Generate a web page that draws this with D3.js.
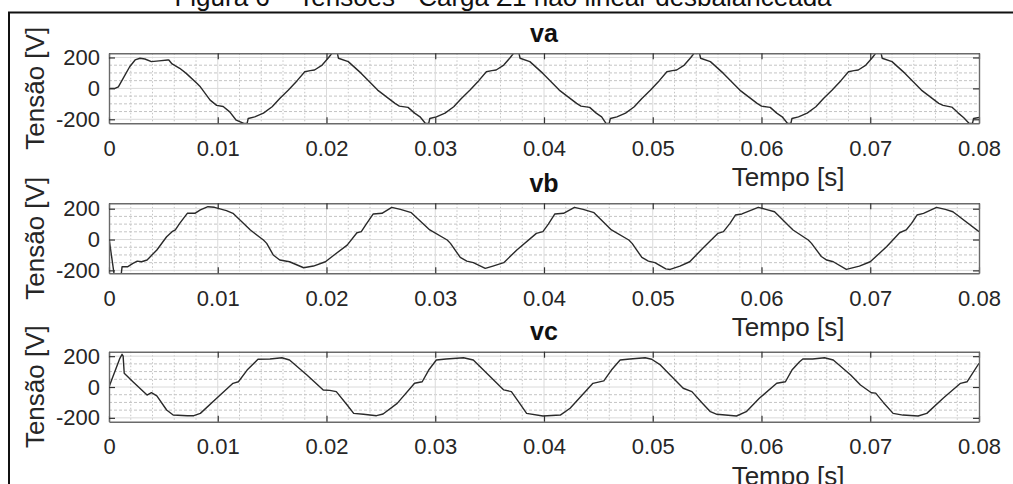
<!DOCTYPE html>
<html>
<head>
<meta charset="utf-8">
<script src="https://cdn.jsdelivr.net/npm/d3@7"></script>
<style>
  html, body { margin: 0; padding: 0; background: #fff; }
  svg { display: block; font-family: "Liberation Sans", Arial, sans-serif; }
</style>
</head>
<body>
<svg id="fig" width="1013" height="484"></svg>
<script>
// Phase voltages [t (s), v (V)] under the unbalanced non-linear load Z1
const va = [
  [0, 0], [0.00055, 0], [0.00086, 10], [0.0013, 65], [0.0019, 140], [0.0024, 184], [0.00285, 195],
  [0.0033, 190], [0.0039, 173], [0.0046, 178], [0.0054, 184], [0.0055, 184], [0.0058, 158],
  [0.0065, 130], [0.0071, 97], [0.0081, 32], [0.0084, 10], [0.0093, -76], [0.0099, -110],
  [0.0105, -117], [0.0111, -152], [0.0117, -206], [0.0124, -227],
  [0.0127, -227], [0.0128, -195], [0.0134, -184], [0.0142, -160], [0.0150, -119], [0.0157, -65],
  [0.0165, -11], [0.0173, 50], [0.0180, 108], [0.0185, 115], [0.0189, 119], [0.0196, 151],
  [0.0202, 200], [0.0205, 227], [0.0210, 227], [0.0211, 195], [0.0220, 173], [0.0232, 97],
  [0.0247, -11], [0.0263, -97], [0.0267, -115], [0.0275, -123], [0.0281, -160], [0.0286, -184],
  [0.0291, -227], [0.0294, -227], [0.0295, -195], [0.0301, -184], [0.0309, -160], [0.0317, -119],
  [0.0324, -65], [0.0332, -11], [0.0340, 50], [0.0347, 108], [0.0352, 115], [0.0356, 119],
  [0.0363, 151], [0.0369, 200], [0.0372, 227], [0.0377, 227], [0.0378, 195], [0.0387, 173],
  [0.0399, 97], [0.0414, -11], [0.0430, -97], [0.0434, -115], [0.0442, -123], [0.0448, -160],
  [0.0453, -184], [0.0457, -227], [0.0460, -227], [0.0461, -195], [0.0467, -184], [0.0475, -160],
  [0.0483, -119], [0.0490, -65], [0.0498, -11], [0.0506, 50], [0.0513, 108], [0.0518, 115],
  [0.0522, 119], [0.0529, 151], [0.0535, 200], [0.0538, 227], [0.0543, 227], [0.0544, 195],
  [0.0553, 173], [0.0565, 97], [0.0580, -11], [0.0596, -97], [0.0600, -115], [0.0608, -123],
  [0.0614, -160], [0.0619, -184], [0.0624, -227], [0.0627, -227], [0.0628, -195], [0.0634, -184],
  [0.0642, -160], [0.0650, -119], [0.0657, -65], [0.0665, -11], [0.0673, 50], [0.0680, 108],
  [0.0685, 115], [0.0689, 119], [0.0696, 151], [0.0702, 200], [0.0705, 227], [0.0710, 227],
  [0.0711, 195], [0.0720, 173], [0.0732, 97], [0.0747, -11], [0.0763, -97], [0.0767, -110],
  [0.0775, -121], [0.0781, -160], [0.0786, -190], [0.0791, -227], [0.0794, -227], [0.0795, -195],
  [0.0800, -188]
];

const vb = [
  [0, 10], [0.0005, -240], [0.0011, -240], [0.0012, -177], [0.0017, -177], [0.0022, -155],
  [0.0026, -140], [0.0030, -144], [0.0035, -133], [0.0044, -68], [0.0053, 18], [0.0058, 51],
  [0.0061, 62], [0.0065, 105], [0.0072, 170], [0.0079, 170], [0.0084, 192], [0.0091, 213],
  [0.0097, 209], [0.0108, 187], [0.0114, 170], [0.0130, 62], [0.0142, -3], [0.0145, -25],
  [0.0151, -100], [0.0157, -133], [0.0166, -144], [0.0179, -183], [0.0188, -172], [0.0199, -144],
  [0.0207, -100], [0.0219, -36], [0.0228, 44], [0.0232, 51], [0.0237, 105], [0.0243, 166],
  [0.0251, 170], [0.0260, 209], [0.0268, 196], [0.0278, 174], [0.0295, 62], [0.0311, -3],
  [0.0314, -25], [0.0323, -116], [0.0329, -140], [0.0335, -150], [0.0346, -187], [0.0353, -172],
  [0.0363, -150], [0.0375, -68], [0.0393, 40], [0.0399, 51], [0.0404, 100], [0.0410, 166],
  [0.0418, 170], [0.0428, 209], [0.0436, 196], [0.0446, 174], [0.0462, 62], [0.0478, -3],
  [0.0481, -25], [0.0490, -116], [0.0496, -140], [0.0502, -150], [0.0512, -190], [0.0516, -194],
  [0.0525, -172], [0.0534, -144], [0.0546, -57], [0.0560, 40], [0.0565, 51], [0.0571, 105],
  [0.0576, 159], [0.0582, 166], [0.0597, 209], [0.0604, 196], [0.0612, 180], [0.0629, 62],
  [0.0643, -3], [0.0646, -25], [0.0655, -110], [0.0660, -133], [0.0666, -144], [0.0678, -194],
  [0.0690, -172], [0.0700, -144], [0.0715, -47], [0.0727, 44], [0.0733, 62], [0.0738, 105],
  [0.0743, 159], [0.0749, 170], [0.0761, 209], [0.0769, 196], [0.0776, 180], [0.0800, 51]
];

const vc = [
  [0, 0], [0.0010, 186], [0.0012, 212], [0.0013, 200], [0.0014, 89], [0.0022, 34], [0.0035, -52],
  [0.0039, -37], [0.0044, -58], [0.0053, -149], [0.0059, -182], [0.0072, -186], [0.0078, -186],
  [0.0084, -171], [0.0099, -73], [0.0114, 24], [0.0119, 34], [0.0127, 110], [0.0137, 180],
  [0.0148, 182], [0.0159, 190], [0.0166, 175], [0.0182, 78], [0.0197, -19], [0.0203, -22],
  [0.0209, -30], [0.0219, -117], [0.0225, -171], [0.0234, -177], [0.0246, -186], [0.0252, -175],
  [0.0265, -106], [0.0281, 24], [0.0288, 34], [0.0294, 110], [0.0301, 175], [0.0310, 182],
  [0.0326, 190], [0.0335, 175], [0.0349, 78], [0.0363, -19], [0.0370, -30], [0.0377, -100],
  [0.0384, -171], [0.0399, -188], [0.0415, -182], [0.0424, -138], [0.0445, 24], [0.0455, 40],
  [0.0462, 110], [0.0470, 175], [0.0479, 182], [0.0493, 190], [0.0499, 180], [0.0507, 143],
  [0.0516, 78], [0.0528, -8], [0.0536, -30], [0.0545, -100], [0.0553, -160], [0.0559, -177],
  [0.0577, -188], [0.0586, -160], [0.0598, -73], [0.0614, 24], [0.0622, 34], [0.0628, 110],
  [0.0635, 164], [0.0638, 182], [0.0647, 182], [0.0658, 190], [0.0666, 175], [0.0682, 78],
  [0.0691, 13], [0.0701, -37], [0.0705, -40], [0.0712, -100], [0.0721, -171], [0.0730, -182],
  [0.0744, -188], [0.0752, -171], [0.0767, -73], [0.0783, 24], [0.0789, 34], [0.0800, 154]
];

const seriesNames = ["va", "vb", "vc"];
const yLimits = [[-226, 227], [-219, 235], [-225, 229]];
const xTicks = [0, 0.01, 0.02, 0.03, 0.04, 0.05, 0.06, 0.07, 0.08];
const xTickLabels = ["0", "0.01", "0.02", "0.03", "0.04", "0.05", "0.06", "0.07", "0.08"];
const yTicks = [-200, 0, 200];
const yTickLabels = ["-200", "0", "200"];
const figureTitle = "Figura 6 – Tensões - Carga Z1 não linear desbalanceada";
const xLabel = "Tempo [s]";
const yLabel = "Tensão [V]";

// ---- layout ----
const svg = d3.select("#fig");
const plotLeft = 109, plotRight = 979, plotH = 70;
const panelTops = [53.3, 203.3, 351.7];
const textColor = "#262626";

svg.append("rect").attr("width", 1013).attr("height", 484).attr("fill", "#fff");

// outer frame (left and top edges visible)
svg.append("path")
  .attr("d", "M9,490 L9,12.5 L1020,12.5")
  .attr("fill", "none").attr("stroke", "#111").attr("stroke-width", 2);

svg.append("text")
  .attr("x", 503).attr("y", 6)
  .attr("text-anchor", "middle")
  .attr("font-size", 26).attr("fill", "#111")
  .text(figureTitle);

const x = d3.scaleLinear().domain([0, 0.08]).range([plotLeft, plotRight]);
const data = [va, vb, vc];

data.forEach((series, i) => {
  const top = panelTops[i], bottom = top + plotH;
  const y = d3.scaleLinear().domain(yLimits[i]).range([bottom, top]);
  const g = svg.append("g");

  const clipId = "clip" + i;
  svg.append("clipPath").attr("id", clipId)
    .append("rect").attr("x", plotLeft).attr("y", top)
    .attr("width", plotRight - plotLeft).attr("height", plotH);

  // minor grid (dotted)
  const minorX = d3.range(0.002, 0.08, 0.002).filter(v => Math.abs(v * 100 - Math.round(v * 100)) > 1e-6);
  const minorY = d3.range(-250, 251, 50).filter(v => v % 200 !== 0 && v > yLimits[i][0] && v < yLimits[i][1]);
  g.selectAll(".mx").data(minorX).join("line")
    .attr("x1", d => x(d)).attr("x2", d => x(d))
    .attr("y1", top).attr("y2", bottom)
    .attr("stroke", "#c4c4c4").attr("stroke-width", 1).attr("stroke-dasharray", "1.5,2");
  g.selectAll(".my").data(minorY).join("line")
    .attr("x1", plotLeft).attr("x2", plotRight)
    .attr("y1", d => y(d)).attr("y2", d => y(d))
    .attr("stroke", "#c4c4c4").attr("stroke-width", 1).attr("stroke-dasharray", "3,2");

  // major grid
  g.selectAll(".gx").data(xTicks.slice(1, -1)).join("line")
    .attr("x1", d => x(d)).attr("x2", d => x(d))
    .attr("y1", top).attr("y2", bottom)
    .attr("stroke", "#dadada").attr("stroke-width", 1);
  g.selectAll(".gy").data(yTicks).join("line")
    .attr("x1", plotLeft).attr("x2", plotRight)
    .attr("y1", d => y(d)).attr("y2", d => y(d))
    .attr("stroke", "#dadada").attr("stroke-width", 1);

  // waveform
  const line = d3.line().x(d => x(d[0])).y(d => y(d[1]));
  g.append("path")
    .datum(series)
    .attr("clip-path", `url(#${clipId})`)
    .attr("d", line)
    .attr("fill", "none").attr("stroke", "#2a2a2a").attr("stroke-width", 1.4)
    .attr("stroke-linejoin", "round");

  // axes with inward ticks
  const axisBottom = d3.axisBottom(x).tickValues(xTicks)
    .tickFormat((d, k) => xTickLabels[k]).tickSizeInner(-6).tickSizeOuter(0).tickPadding(17);
  const axisTop = d3.axisTop(x).tickValues(xTicks).tickFormat("").tickSizeInner(-6).tickSizeOuter(0);
  const axisLeft = d3.axisLeft(y).tickValues(yTicks)
    .tickFormat((d, k) => yTickLabels[k]).tickSizeInner(-6).tickSizeOuter(0).tickPadding(9);
  const axisRight = d3.axisRight(y).tickValues(yTicks).tickFormat("").tickSizeInner(-6).tickSizeOuter(0);

  const styleAxis = sel => {
    sel.select(".domain").attr("stroke", "#6a6a6a").attr("stroke-width", 1.4);
    sel.selectAll(".tick line").attr("stroke", "#333").attr("stroke-width", 1.2);
    sel.selectAll(".tick text").attr("fill", textColor).attr("font-size", 22)
      .attr("font-family", "'Liberation Sans', Arial, sans-serif");
  };
  g.append("g").attr("transform", `translate(0,${bottom})`).call(axisBottom).call(styleAxis);
  g.append("g").attr("transform", `translate(0,${top})`).call(axisTop).call(styleAxis);
  g.append("g").attr("transform", `translate(${plotLeft},0)`).call(axisLeft).call(styleAxis);
  g.append("g").attr("transform", `translate(${plotRight},0)`).call(axisRight).call(styleAxis);

  // title, axis labels
  g.append("text")
    .attr("x", (plotLeft + plotRight) / 2).attr("y", top - 11.5)
    .attr("text-anchor", "middle").attr("font-size", 25).attr("font-weight", "bold")
    .attr("fill", "#111").text(seriesNames[i]);

  g.append("text")
    .attr("x", 788).attr("y", bottom + 63)
    .attr("text-anchor", "middle").attr("font-size", 26)
    .attr("fill", textColor).text(xLabel);

  g.append("text")
    .attr("transform", `translate(44,${(top + bottom) / 2}) rotate(-90)`)
    .attr("text-anchor", "middle").attr("font-size", 26)
    .attr("fill", textColor).text(yLabel);
});
</script>
</body>
</html>
